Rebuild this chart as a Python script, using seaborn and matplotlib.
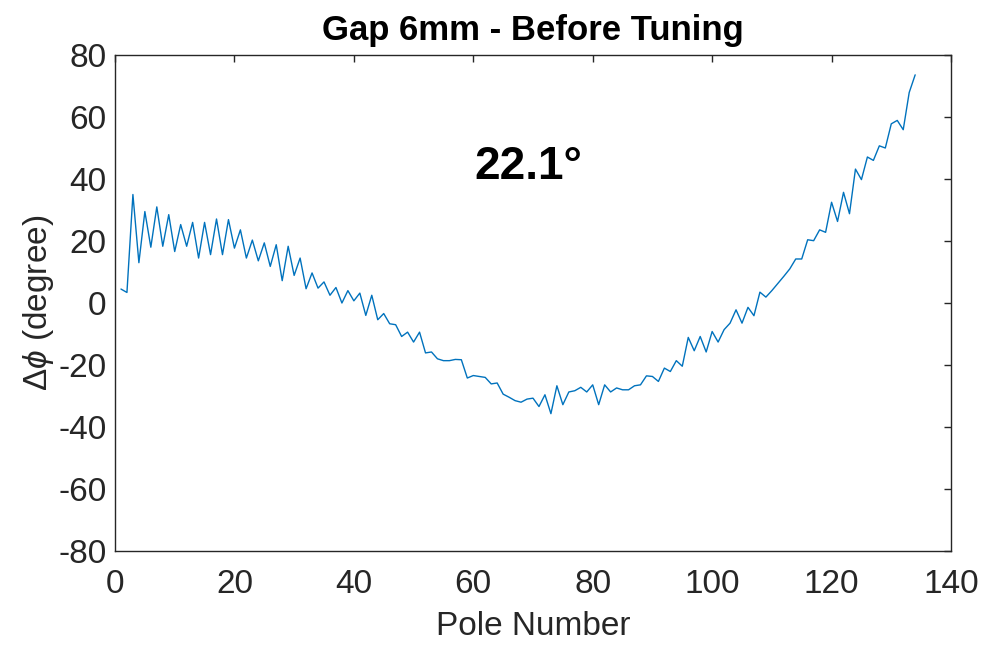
import matplotlib
matplotlib.use("Agg")
import matplotlib.pyplot as plt
import seaborn as sns
import numpy as np
import pandas as pd

poles = list(range(1, 135))
dphi = [
    4.5, 3.4, 35.0, 13.0, 29.5, 18.0, 31.0, 18.3, 28.5, 16.6,
    25.3, 18.3, 26.0, 14.5, 26.0, 15.6, 27.1, 15.6, 26.9, 17.7,
    23.6, 14.5, 20.3, 13.6, 19.4, 11.8, 18.8, 7.2, 18.3, 8.9,
    14.5, 4.6, 9.7, 4.8, 6.8, 2.5, 5.0, 0.0, 4.0, 0.7,
    3.2, -4.0, 2.5, -5.4, -3.4, -6.7, -7.0, -10.8, -9.4, -12.6,
    -9.4, -16.1, -15.8, -18.0, -18.6, -18.6, -18.2, -18.3, -24.2, -23.4,
    -23.7, -24.0, -26.1, -25.8, -29.4, -30.4, -31.5, -32.0, -31.0, -30.7,
    -33.4, -29.6, -35.7, -26.7, -32.8, -28.7, -28.3, -27.2, -28.7, -26.4,
    -32.8, -26.4, -28.7, -27.4, -28.0, -28.0, -26.7, -26.4, -23.5, -23.7,
    -25.3, -21.0, -22.1, -18.6, -20.4, -11.1, -15.4, -10.8, -15.8, -9.2,
    -12.6, -8.6, -6.5, -2.2, -6.5, -1.4, -4.1, 3.5, 1.9, 4.0,
    6.3, 8.6, 11.0, 14.2, 14.2, 20.4, 20.1, 23.6, 22.8, 32.5,
    26.3, 35.7, 28.8, 43.2, 39.8, 47.1, 46.0, 50.7, 50.0, 57.8,
    58.9, 55.9, 67.9, 73.6,
]
x_ticks = [0, 20, 40, 60, 80, 100, 120, 140]
y_ticks = [-80, -60, -40, -20, 0, 20, 40, 60, 80]
title = "Gap 6mm - Before Tuning"
xlabel = "Pole Number"
ylabel = r"$\Delta\phi$ (degree)"
annot = "22.1°"

sns.set_theme(style="white")
plt.rcParams["font.family"] = ["Liberation Sans", "DejaVu Sans"]
plt.rcParams["mathtext.fontset"] = "custom"
plt.rcParams["mathtext.rm"] = "Liberation Sans"
plt.rcParams["mathtext.it"] = "Liberation Sans:italic"
plt.rcParams["axes.unicode_minus"] = False

df = pd.DataFrame({"pole": poles, "dphi": dphi})

fig = plt.figure(figsize=(9.82, 6.46), dpi=100)
ax = fig.add_axes([115 / 982, 1 - 551 / 646, (951 - 115) / 982, (551 - 55) / 646])
sns.lineplot(data=df, x="pole", y="dphi", ax=ax, color="#0072BD", linewidth=1.0)

gray = "#262626"
fs = 24
ax.set_xlim(0, 140)
ax.set_ylim(-80, 80)
ax.set_xticks(x_ticks)
ax.set_yticks(y_ticks)
ax.tick_params(axis="both", which="both", direction="in", length=5, width=1.0,
               colors=gray, labelsize=fs, top=True, right=True,
               labelcolor=gray)
ax.tick_params(axis="x", pad=13)
ax.tick_params(axis="y", pad=6)
for s in ax.spines.values():
    s.set_visible(True)
    s.set_color(gray)
    s.set_linewidth(1.0)

ax.set_xlabel(xlabel, fontsize=fs, color=gray, labelpad=8)
ax.set_ylabel(ylabel, fontsize=fs, color=gray, labelpad=2)
ax.set_title(title, fontsize=25, fontweight="bold", color="black", pad=11)
ax.text(69.2, 44.0, annot, fontsize=33, fontweight="bold", color="black",
        ha="center", va="center")

fig.savefig("out.png", dpi=100)
